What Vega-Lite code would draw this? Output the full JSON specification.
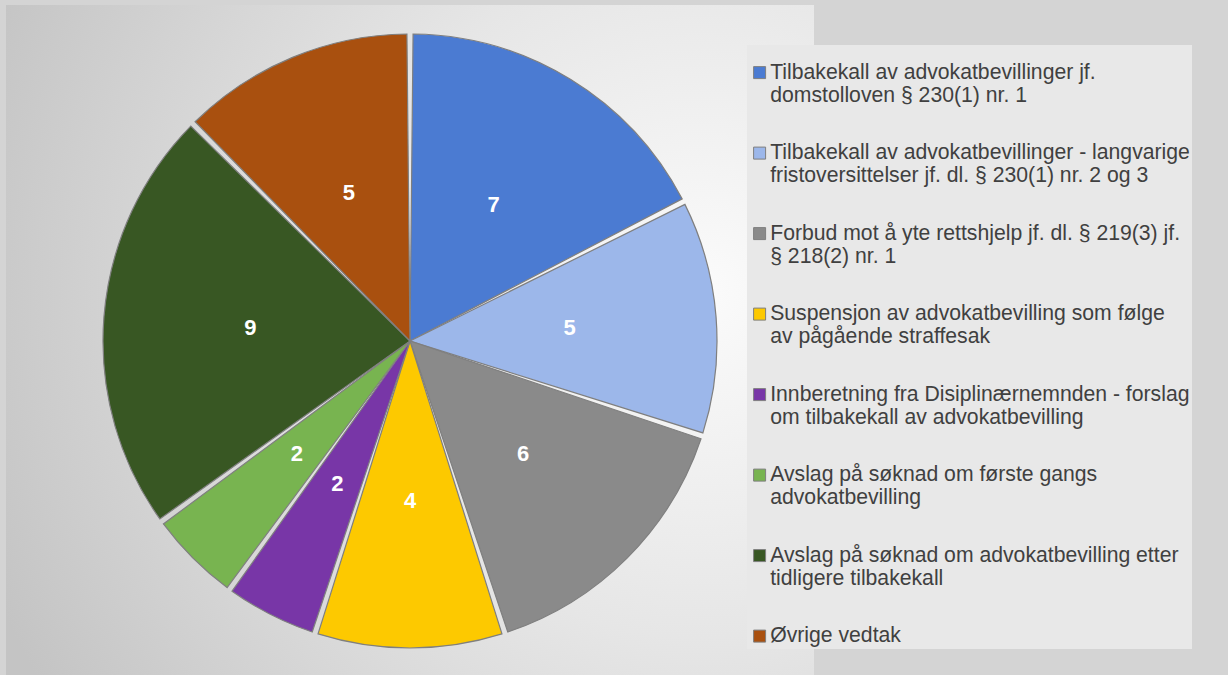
{
  "$schema": "https://vega.github.io/schema/vega-lite/v6.json",
  "width": 808,
  "height": 672,
  "autosize": {"type": "none"},
  "padding": {"left": 6, "top": 5, "right": 414, "bottom": 0},
  "background": "#d4d4d4",
  "view": {
    "stroke": null,
    "fill": {
      "gradient": "radial",
      "x1": 0.86, "y1": 0.44, "r1": 0,
      "x2": 0.86, "y2": 0.44, "r2": 0.95,
      "stops": [
        {"offset": 0, "color": "#fbfbfb"},
        {"offset": 0.45, "color": "#e6e6e6"},
        {"offset": 1, "color": "#c4c4c4"}
      ]
    }
  },
  "data": {
    "values": [
      {"nr": 1, "kategori": "Tilbakekall av advokatbevillinger jf.\ndomstolloven § 230(1) nr. 1", "antall": 7},
      {"nr": 2, "kategori": "Tilbakekall av advokatbevillinger - langvarige\nfristoversittelser jf. dl. § 230(1) nr. 2 og 3", "antall": 5},
      {"nr": 3, "kategori": "Forbud mot å yte rettshjelp jf. dl. § 219(3) jf.\n§ 218(2) nr. 1", "antall": 6},
      {"nr": 4, "kategori": "Suspensjon av advokatbevilling som følge\nav pågående straffesak", "antall": 4},
      {"nr": 5, "kategori": "Innberetning fra Disiplinærnemnden - forslag\nom tilbakekall av advokatbevilling", "antall": 2},
      {"nr": 6, "kategori": "Avslag på søknad om første gangs\nadvokatbevilling", "antall": 2},
      {"nr": 7, "kategori": "Avslag på søknad om advokatbevilling etter\ntidligere tilbakekall", "antall": 9},
      {"nr": 8, "kategori": "Øvrige vedtak", "antall": 5}
    ]
  },
  "encoding": {
    "theta": {"field": "antall", "type": "quantitative", "stack": true},
    "order": {"field": "nr", "type": "quantitative"}
  },
  "layer": [
    {
      "mark": {"type": "arc", "outerRadius": 307, "padAngle": 0.02, "stroke": "#7f7f7f", "strokeWidth": 1.2},
      "encoding": {
        "color": {
          "field": "kategori",
          "type": "nominal",
          "sort": null,
          "scale": {
            "domain": [
              "Tilbakekall av advokatbevillinger jf.\ndomstolloven § 230(1) nr. 1",
              "Tilbakekall av advokatbevillinger - langvarige\nfristoversittelser jf. dl. § 230(1) nr. 2 og 3",
              "Forbud mot å yte rettshjelp jf. dl. § 219(3) jf.\n§ 218(2) nr. 1",
              "Suspensjon av advokatbevilling som følge\nav pågående straffesak",
              "Innberetning fra Disiplinærnemnden - forslag\nom tilbakekall av advokatbevilling",
              "Avslag på søknad om første gangs\nadvokatbevilling",
              "Avslag på søknad om advokatbevilling etter\ntidligere tilbakekall",
              "Øvrige vedtak"
            ],
            "range": ["#4b7bd2", "#9cb7ea", "#8a8a8a", "#fdc900", "#7836a7", "#78b450", "#385723", "#a9500f"]
          },
          "legend": {
            "orient": "none",
            "legendX": 741,
            "legendY": 40,
            "title": " ",
            "titleFontSize": 11,
            "titlePadding": 4,
            "symbolType": "square",
            "symbolSize": 144,
            "symbolStrokeColor": "#7f7f7f",
            "symbolStrokeWidth": 1,
            "labelFont": "Liberation Sans",
            "labelFontSize": 21.2,
            "labelColor": "#404040",
            "labelLimit": 600,
            "labelOffset": 0,
            "labelExpr": "split(datum.label, '\\n')",
            "rowPadding": 35.5,
            "padding": 2,
            "fillColor": "#e8e8e8"
          }
        }
      }
    },
    {
      "mark": {"type": "text", "radius": 160, "font": "Liberation Sans", "fontSize": 22, "fontWeight": "bold", "align": "center", "baseline": "middle"},
      "encoding": {
        "text": {"field": "antall", "type": "quantitative"},
        "color": {"value": "white"}
      }
    }
  ]
}
